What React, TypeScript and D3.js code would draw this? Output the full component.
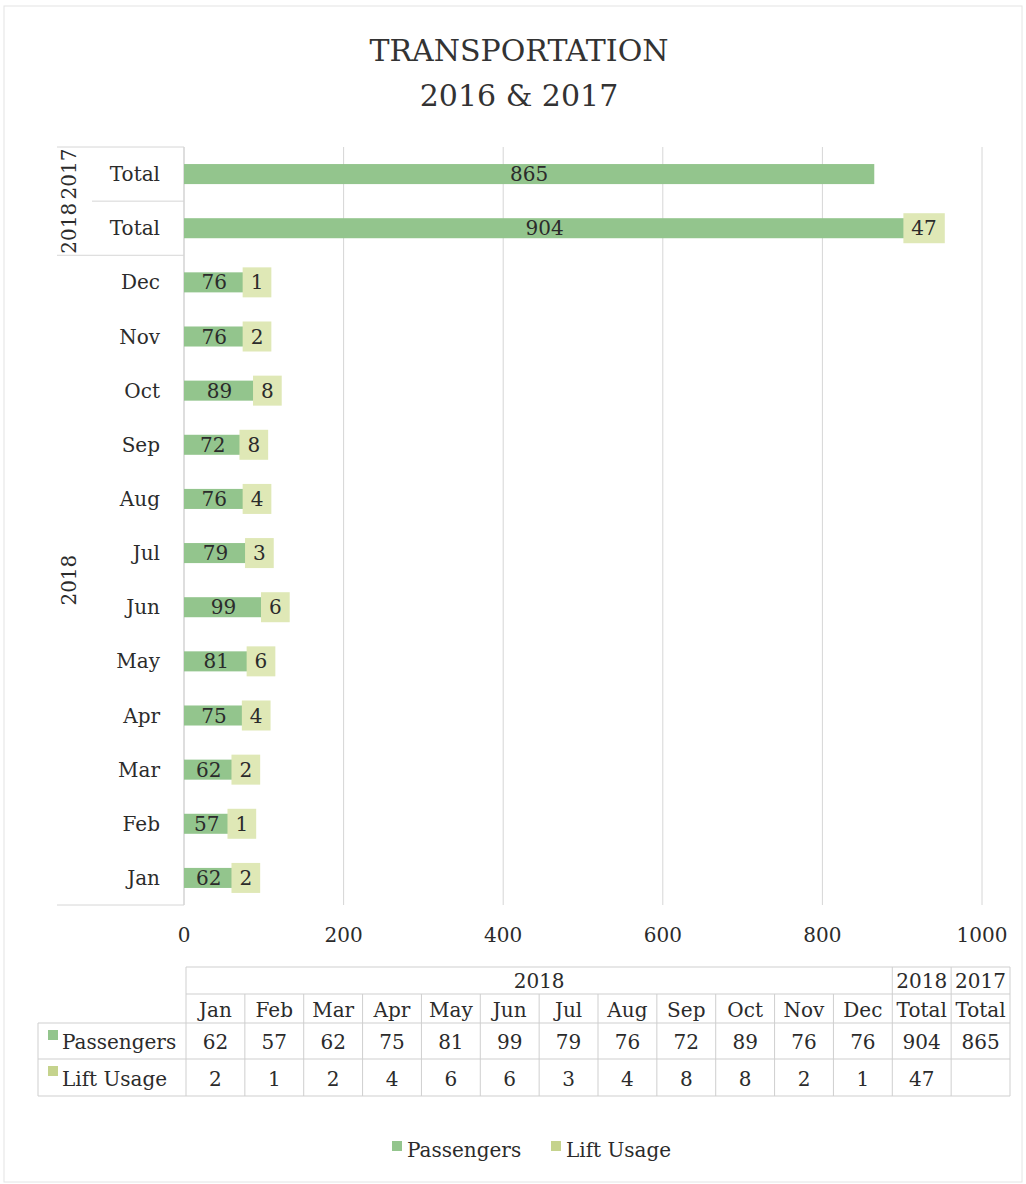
import React from "react";
import * as d3 from "d3";

// values
const months = ["Jan", "Feb", "Mar", "Apr", "May", "Jun", "Jul", "Aug", "Sep", "Oct", "Nov", "Dec"];
const passengers = [62, 57, 62, 75, 81, 99, 79, 76, 72, 89, 76, 76];
const liftUsage = [2, 1, 2, 4, 6, 6, 3, 4, 8, 8, 2, 1];
const totalYears = ["2018", "2017"];
const totalPassengers = [904, 865];
const totalLift: (number | null)[] = [47, null];
const xTicks = [0, 200, 400, 600, 800, 1000];

const seriesNames = ["Passengers", "Lift Usage"];
const colors = ["#93c58d", "#c5d38d"];
const labelFill = "#dfe8b6";

const FONT = "'DejaVu Serif', serif";
const TEXT = "#2b2b2b";
const GRID = "#d6d6d6";

interface Row {
  key: string;
  label: string;
  group: string;
  passengers: number;
  lift: number | null;
}

const rows: Row[] = [
  ...months.map((m, i) => ({ key: "2018-" + m, label: m, group: "2018", passengers: passengers[i], lift: liftUsage[i] })),
  ...totalYears.map((y, i) => ({ key: y + "-Total", label: "Total", group: y, passengers: totalPassengers[i], lift: totalLift[i] })),
];

const App = () => {
  const width = 1026;
  const height = 1184;

  const x = d3.scaleLinear().domain([0, 1000]).range([184, 982]);
  const y = d3
    .scaleBand<string>()
    .domain(rows.map((r) => r.key).reverse())
    .range([147, 905])
    .paddingInner(0.63)
    .paddingOuter(0.315);
  const step = y.step();
  const bh = y.bandwidth();
  const cy = (k: string) => (y(k) as number) + bh / 2;

  // table
  const tx = d3.scaleLinear().domain([0, 14]).range([186, 1010]);
  const colW = tx(1) - tx(0);
  const rowY = [967, 994, 1023, 1059, 1096];
  const tableCols = [
    ...months.map((m, i) => ({ top: "", head: m, p: passengers[i] as number | null, l: liftUsage[i] as number | null })),
    ...totalYears.map((yr, i) => ({ top: yr, head: "Total", p: totalPassengers[i] as number | null, l: totalLift[i] })),
  ];

  const monthKeys = months.map((m) => "2018-" + m);
  const g2018Top = y(monthKeys[11]) as number;
  const g2018Bot = (y(monthKeys[0]) as number) + bh;
  const groupMid = (g2018Top + g2018Bot) / 2;

  return (
    <svg width={width} height={height} style={{ display: "block", position: "absolute", left: 0, top: 0 }} fontFamily={FONT}>
      <rect x={0} y={0} width={width} height={height} fill="#fff" />
      <rect x={4} y={6} width={1018} height={1176} fill="none" stroke="#e4e4e4" />

      {/* title */}
      <text x={519} y={61} textAnchor="middle" fontSize={30} fill="#333">TRANSPORTATION</text>
      <text x={519} y={106} textAnchor="middle" fontSize={30} fill="#333">2016 &amp; 2017</text>

      {/* gridlines */}
      {xTicks.map((t) => (
        <line key={t} x1={x(t)} x2={x(t)} y1={147} y2={905} stroke={t === 0 ? "#bdbdbd" : GRID} />
      ))}
      {xTicks.map((t) => (
        <text key={"t" + t} x={x(t)} y={942} textAnchor="middle" fontSize={20} fill={TEXT}>{t}</text>
      ))}

      {/* category group separators */}
      {[147, 905].map((yy) => (
        <line key={yy} x1={57} x2={184} y1={yy} y2={yy} stroke={GRID} />
      ))}
      <line x1={92} x2={184} y1={147 + step} y2={147 + step} stroke={GRID} />
      <line x1={57} x2={184} y1={147 + 2 * step} y2={147 + 2 * step} stroke={GRID} />

      {/* category labels */}
      {rows.map((r) => (
        <text key={"c" + r.key} x={160} y={cy(r.key) + 7} textAnchor="end" fontSize={20} fill={TEXT}>{r.label}</text>
      ))}
      {totalYears.map((yr) => (
        <text
          key={"g" + yr}
          transform={`translate(76, ${cy(yr + "-Total")}) rotate(-90)`}
          textAnchor="middle"
          fontSize={20}
          fill={TEXT}
        >
          {yr}
        </text>
      ))}
      <text transform={`translate(76, ${groupMid}) rotate(-90)`} textAnchor="middle" fontSize={20} fill={TEXT}>2018</text>

      {/* bars */}
      {rows.map((r) => {
        const x0 = x(0);
        const x1 = x(r.passengers);
        const x2 = x(r.passengers + (r.lift ?? 0));
        const c = cy(r.key);
        const liftText = r.lift === null ? "" : String(r.lift);
        const boxW = liftText.length * 12.7 + 16;
        return (
          <g key={"b" + r.key}>
            <rect x={x0} y={y(r.key)} width={x1 - x0} height={bh} fill={colors[0]} />
            {r.lift !== null && <rect x={x1} y={y(r.key)} width={x2 - x1} height={bh} fill={colors[1]} />}
            <text x={(x0 + x1) / 2} y={c + 7} textAnchor="middle" fontSize={20} fill={TEXT}>{r.passengers}</text>
            {r.lift !== null && (
              <g>
                <rect x={x1 - 2} y={c - 15} width={boxW} height={30} fill={labelFill} />
                <text x={x1 - 2 + boxW / 2} y={c + 7} textAnchor="middle" fontSize={20} fill={TEXT}>{liftText}</text>
              </g>
            )}
          </g>
        );
      })}

      {/* data table */}
      <g stroke="#cfcfcf" fill="none">
        <line x1={tx(0)} x2={tx(14)} y1={rowY[0]} y2={rowY[0]} />
        <line x1={tx(0)} x2={tx(14)} y1={rowY[1]} y2={rowY[1]} />
        <line x1={38} x2={tx(14)} y1={rowY[2]} y2={rowY[2]} />
        <line x1={38} x2={tx(14)} y1={rowY[3]} y2={rowY[3]} />
        <line x1={38} x2={tx(14)} y1={rowY[4]} y2={rowY[4]} />
        <line x1={38} x2={38} y1={rowY[2]} y2={rowY[4]} />
        {d3.range(15).map((i) => (
          <line key={"v" + i} x1={tx(i)} x2={tx(i)} y1={i === 0 || i >= 12 ? rowY[0] : rowY[1]} y2={rowY[4]} />
        ))}
      </g>
      <text x={(tx(0) + tx(12)) / 2} y={988} textAnchor="middle" fontSize={20} fill={TEXT}>2018</text>
      {tableCols.map((c, i) => {
        const mx = tx(i) + colW / 2;
        return (
          <g key={"col" + i}>
            {c.top && <text x={mx} y={988} textAnchor="middle" fontSize={20} fill={TEXT}>{c.top}</text>}
            <text x={mx} y={1017} textAnchor="middle" fontSize={20} fill={TEXT}>{c.head}</text>
            <text x={mx} y={1049} textAnchor="middle" fontSize={20} fill={TEXT}>{c.p ?? ""}</text>
            <text x={mx} y={1086} textAnchor="middle" fontSize={20} fill={TEXT}>{c.l ?? ""}</text>
          </g>
        );
      })}
      {seriesNames.map((s, i) => (
        <g key={"tl" + s}>
          <rect x={48} y={(i === 0 ? 1041 : 1077) - 11} width={10} height={10} fill={colors[i]} />
          <text x={62} y={i === 0 ? 1049 : 1086} fontSize={20} fill={TEXT}>{s}</text>
        </g>
      ))}

      {/* legend */}
      {seriesNames.map((s, i) => {
        const lx = i === 0 ? 392 : 551;
        return (
          <g key={"lg" + s}>
            <rect x={lx} y={1141} width={10} height={10} fill={colors[i]} />
            <text x={lx + 15} y={1157} fontSize={20} fill={TEXT}>{s}</text>
          </g>
        );
      })}
    </svg>
  );
};

export default App;
